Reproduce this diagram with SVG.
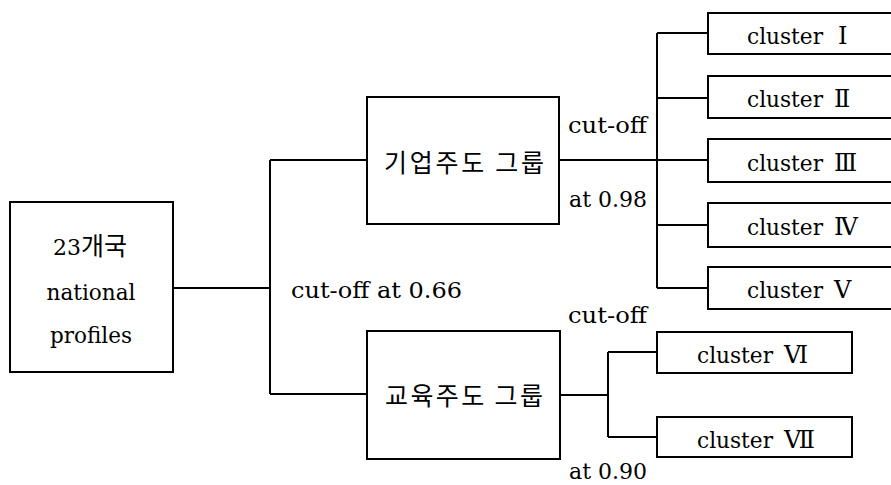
<svg xmlns="http://www.w3.org/2000/svg" width="891" height="485" viewBox="0 0 891 485">
<style>
.box{fill:#fff;stroke:#000;stroke-width:2}
.ln{stroke:#000;stroke-width:2;fill:none}
.t{font-family:"DejaVu Serif",serif;font-size:22px;fill:#000}
.ko{font-family:"Noto Sans CJK KR",sans-serif;font-size:25px}
.rn{font-family:"DejaVu Serif","Noto Sans CJK KR",serif;font-size:24px}
.mid{text-anchor:middle}
</style>
<rect width="891" height="485" fill="#fff"/>
<g id="connectors">
<path class="ln" d="M173,288H270M270,160V394M270,160H367M270,394H367"/>
<path class="ln" d="M559,160H657M657,33V288M657,33H708M657,98H708M657,160H708M657,225H708M657,288H708"/>
<path class="ln" d="M560,395H608M608,352V437M608,352H657M608,437H657"/>
</g>
<g id="labels">
<text class="t" x="568" y="133" textLength="79" lengthAdjust="spacingAndGlyphs">cut-off</text>
<text class="t" x="569" y="207" textLength="78" lengthAdjust="spacingAndGlyphs">at 0.98</text>
<text class="t" x="291" y="298" textLength="171" lengthAdjust="spacingAndGlyphs">cut-off at 0.66</text>
<text class="t" x="568" y="323" textLength="79" lengthAdjust="spacingAndGlyphs">cut-off</text>
<text class="t" x="569" y="479" textLength="78" lengthAdjust="spacingAndGlyphs">at 0.90</text>
</g>
<g id="root">
<rect class="box" x="10" y="202" width="163" height="170"/>
<text class="t" x="53" y="255">23<tspan class="ko">개국</tspan></text>
<text class="t mid" x="91" y="300" textLength="89" lengthAdjust="spacingAndGlyphs">national</text>
<text class="t mid" x="91" y="343" textLength="82" lengthAdjust="spacingAndGlyphs">profiles</text>
</g>
<g id="group-a">
<rect class="box" x="367" y="97" width="192" height="127"/>
<text class="ko" x="384" y="172" textLength="160" lengthAdjust="spacing">기업주도 그룹</text>
</g>
<g id="group-b">
<rect class="box" x="367" y="331" width="193" height="128"/>
<text class="ko" x="385" y="405" textLength="158" lengthAdjust="spacing">교육주도 그룹</text>
</g>
<g id="c1"><rect class="box" x="708" y="13" width="200" height="41"/><text class="t" x="747" y="44" textLength="76" lengthAdjust="spacingAndGlyphs">cluster</text><text class="rn" x="838" y="44">Ⅰ</text></g>
<g id="c2"><rect class="box" x="708" y="76" width="200" height="42"/><text class="t" x="747" y="107" textLength="76" lengthAdjust="spacingAndGlyphs">cluster</text><text class="rn" x="834" y="107">Ⅱ</text></g>
<g id="c3"><rect class="box" x="708" y="139" width="200" height="43"/><text class="t" x="747" y="171" textLength="76" lengthAdjust="spacingAndGlyphs">cluster</text><text class="rn" x="834" y="171">Ⅲ</text></g>
<g id="c4"><rect class="box" x="708" y="203" width="200" height="44"/><text class="t" x="747" y="235" textLength="76" lengthAdjust="spacingAndGlyphs">cluster</text><text class="rn" x="834" y="235">Ⅳ</text></g>
<g id="c5"><rect class="box" x="708" y="267" width="200" height="42"/><text class="t" x="747" y="298" textLength="76" lengthAdjust="spacingAndGlyphs">cluster</text><text class="rn" x="834" y="298">Ⅴ</text></g>
<g id="c6"><rect class="box" x="657" y="332" width="195" height="41"/><text class="t" x="697" y="363" textLength="76" lengthAdjust="spacingAndGlyphs">cluster</text><text class="rn" x="784" y="363">Ⅵ</text></g>
<g id="c7"><rect class="box" x="657" y="417" width="195" height="40"/><text class="t" x="697" y="448" textLength="76" lengthAdjust="spacingAndGlyphs">cluster</text><text class="rn" x="784" y="448">Ⅶ</text></g>
</svg>
